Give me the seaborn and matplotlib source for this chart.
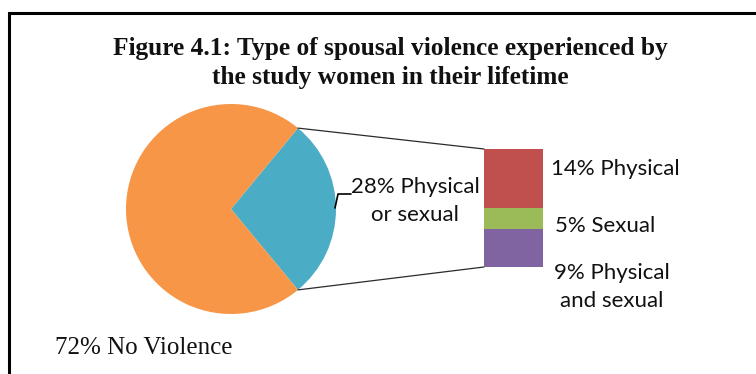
import numpy as np
import matplotlib
matplotlib.use("Agg")
import matplotlib.pyplot as plt
from matplotlib.patches import ConnectionPatch, Rectangle
from matplotlib.lines import Line2D
import seaborn as sns

# Overall split of women by lifetime spousal violence
pie_labels = ["Physical\nor sexual", "No Violence"]
pie_values = [28, 72]
pie_colors = ["#4BACC6", "#F79646"]

# Breakdown of the "Physical or sexual" share (top to bottom in the bar)
sub_labels = ["Physical", "Sexual", "Physical\nand sexual"]
sub_values = [14, 5, 9]
sub_colors = ["#C0504D", "#9BBB59", "#8064A2"]

title = "Figure 4.1: Type of spousal violence experienced by\nthe study women in their lifetime"

W, H, DPI = 756, 374, 100
sns.set_theme(style="white")
plt.rcParams["font.family"] = ["Lato", "DejaVu Sans"]

fig = plt.figure(figsize=(W / DPI, H / DPI), dpi=DPI)


def box(left, top, width, height):
    """Axes rectangle given in pixels measured from the top-left corner."""
    return [left / W, 1 - (top + height) / H, width / W, height / H]


def fpt(x, y):
    """Pixel position (from top-left) to figure fraction."""
    return x / W, 1 - y / H


# Pie of the main split, with the violence wedge centred on the right side
pie_cx, pie_cy, pie_r = 231, 209, 105
ax_pie = fig.add_axes(box(pie_cx - pie_r, pie_cy - pie_r, 2 * pie_r, 2 * pie_r))
start = -360 * pie_values[0] / sum(pie_values) / 2
wedges, _ = ax_pie.pie(pie_values, colors=pie_colors, startangle=start,
                       counterclock=True, radius=1,
                       wedgeprops=dict(linewidth=0))
ax_pie.set_xlim(-1, 1)
ax_pie.set_ylim(-1, 1)
ax_pie.set_aspect("equal")
ax_pie.axis("off")

# Stacked bar of the breakdown
ax_bar = fig.add_axes(box(484, 149, 59, 118))
total = sum(sub_values)
bottom = 0
for lab, val, col in list(zip(sub_labels, sub_values, sub_colors))[::-1]:
    sns.barplot(x=["sub"], y=[val], bottom=bottom, color=col, saturation=1,
                width=1, errorbar=None, linewidth=0, ax=ax_bar)
    bottom += val
ax_bar.set_xlim(-0.5, 0.5)
ax_bar.set_ylim(0, total)
ax_bar.axis("off")

# Lines joining the wedge edges to the bar corners
w = wedges[0]
for ang, ybar in [(w.theta2, total), (w.theta1, 0)]:
    t = np.deg2rad(ang)
    con = ConnectionPatch(xyA=(w.r * np.cos(t), w.r * np.sin(t)), coordsA=ax_pie.transData,
                          xyB=(-0.5, ybar), coordsB=ax_bar.transData,
                          color="#2b2b2b", linewidth=0.9)
    fig.add_artist(con)

# Outer frame (top and left edges visible)
fig.add_artist(Rectangle(fpt(8.5, 400), 2, (400 - 13) / H, transform=fig.transFigure,
                         fill=False, edgecolor="black", linewidth=2.2))

# Title
fig.text(*fpt(390, 63), title, ha="center", va="center", fontsize=18.3,
         fontweight="bold", family=["Liberation Serif"], linespacing=1.3,
         color="#111111")

# Pie labels
mid = np.deg2rad((w.theta1 + w.theta2) / 2)
ax0 = pie_cx + pie_r * np.cos(mid)
ay0 = pie_cy - pie_r * np.sin(mid)
fig.add_artist(Line2D([fpt(ax0 - 1, ay0 - 1)[0], fpt(ax0 + 2, 194)[0], fpt(ax0 + 15, 194)[0]],
                      [fpt(ax0 - 1, ay0 - 1)[1], fpt(ax0 + 2, 194)[1], fpt(ax0 + 15, 194)[1]],
                      color="black", linewidth=1.2, transform=fig.transFigure))
fig.text(*fpt(415, 201), f"{pie_values[0]}% {pie_labels[0]}", ha="center", va="center",
         fontsize=16, linespacing=1.5, color="#111111")
fig.text(*fpt(55, 348), f"{pie_values[1]}% {pie_labels[1]}", ha="left", va="center",
         fontsize=18, family=["Liberation Serif"], color="#111111")

# Bar labels
label_pos = [(615, 169), (605, 226), (612, 287)]
for lab, val, (x, y) in zip(sub_labels, sub_values, label_pos):
    fig.text(*fpt(x, y), f"{val}% {lab}", ha="center", va="center", fontsize=16,
             linespacing=1.5, color="#111111")

fig.savefig("out.png", dpi=DPI, facecolor="white")
